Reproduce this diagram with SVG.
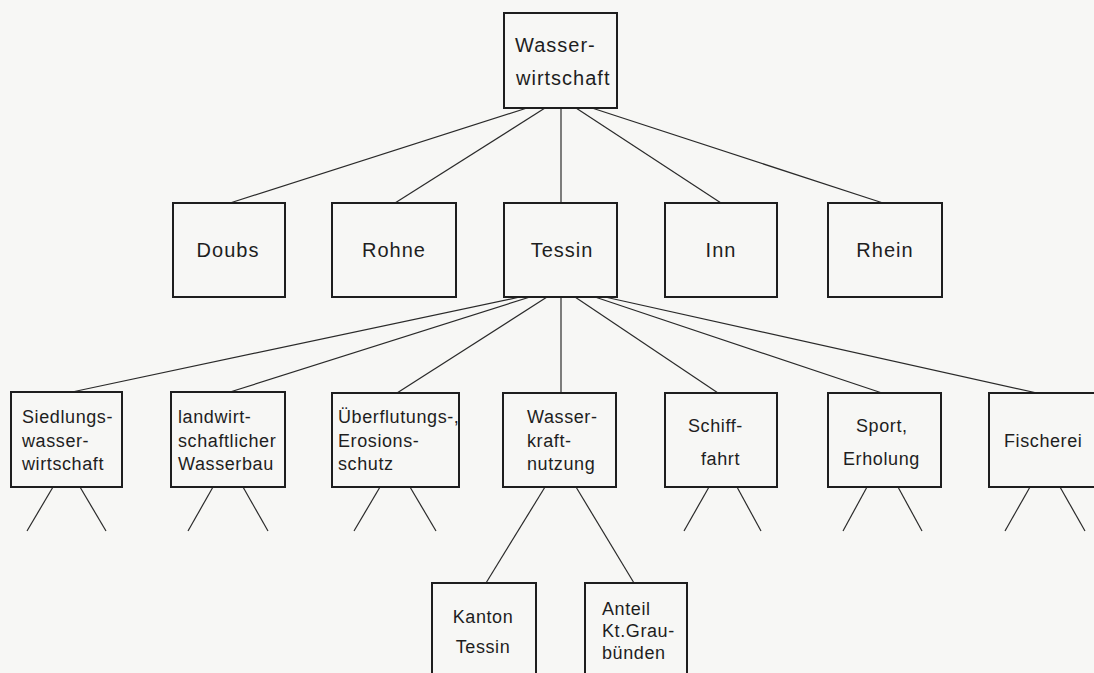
<svg xmlns="http://www.w3.org/2000/svg" width="1094" height="673" viewBox="0 0 1094 673">
<style>
.box{fill:none;stroke:#1e1e1e;stroke-width:2}
.ln{stroke:#2a2a2a;stroke-width:1.2;fill:none}
.t{font-family:"Liberation Sans","DejaVu Sans",sans-serif;fill:#1e1e1e;letter-spacing:0.6px}
.t20{font-size:20px;letter-spacing:1px}
.t18{font-size:18px}
.c{text-anchor:middle}
</style>
<rect x="0" y="0" width="1094" height="673" fill="#f7f7f5"/>
<g id="connectors" class="ln">
<line x1="527" y1="108" x2="230" y2="203"/>
<line x1="545" y1="108" x2="395" y2="203"/>
<line x1="561" y1="108" x2="561" y2="203"/>
<line x1="576" y1="108" x2="721" y2="203"/>
<line x1="592" y1="108" x2="883" y2="203"/>
<line x1="520" y1="297" x2="72" y2="392"/>
<line x1="530" y1="297" x2="230" y2="392"/>
<line x1="547" y1="297" x2="397" y2="393"/>
<line x1="561" y1="297" x2="561" y2="393"/>
<line x1="575" y1="297" x2="718" y2="393"/>
<line x1="595" y1="297" x2="882" y2="393"/>
<line x1="605" y1="297" x2="1037" y2="393"/>
<line x1="53" y1="487" x2="27" y2="531"/>
<line x1="80" y1="487" x2="106" y2="531"/>
<line x1="213" y1="487" x2="188" y2="531"/>
<line x1="243" y1="487" x2="268" y2="531"/>
<line x1="380" y1="487" x2="354" y2="531"/>
<line x1="410" y1="487" x2="436" y2="531"/>
<line x1="545" y1="487" x2="486" y2="583"/>
<line x1="576" y1="487" x2="634" y2="583"/>
<line x1="709" y1="487" x2="684" y2="531"/>
<line x1="737" y1="487" x2="761" y2="531"/>
<line x1="867" y1="487" x2="843" y2="531"/>
<line x1="898" y1="487" x2="922" y2="531"/>
<line x1="1030" y1="487" x2="1005" y2="531"/>
<line x1="1060" y1="487" x2="1085" y2="531"/>
</g>
<g id="wasserwirtschaft"><rect class="box" x="504" y="13" width="113" height="95"/>
<text class="t t20" x="515" y="52">Wasser-</text><text class="t t20" x="516" y="85">wirtschaft</text></g>
<g id="doubs"><rect class="box" x="173" y="203" width="112" height="94"/><text class="t t20 c" x="228" y="257">Doubs</text></g>
<g id="rohne"><rect class="box" x="332" y="203" width="124" height="94"/><text class="t t20 c" x="394" y="257">Rohne</text></g>
<g id="tessin"><rect class="box" x="504" y="203" width="113" height="94"/><text class="t t20 c" x="562" y="257">Tessin</text></g>
<g id="inn"><rect class="box" x="665" y="203" width="112" height="94"/><text class="t t20 c" x="721" y="257">Inn</text></g>
<g id="rhein"><rect class="box" x="828" y="203" width="114" height="94"/><text class="t t20 c" x="885" y="257">Rhein</text></g>
<g id="siedlung"><rect class="box" x="11" y="392" width="111" height="95"/>
<text class="t t18" x="22" y="423">Siedlungs-</text><text class="t t18" x="22" y="447">wasser-</text><text class="t t18" x="22" y="470">wirtschaft</text></g>
<g id="landwirt"><rect class="box" x="171" y="392" width="114" height="95"/>
<text class="t t18" x="178" y="423">landwirt-</text><text class="t t18" x="178" y="447">schaftlicher</text><text class="t t18" x="178" y="470">Wasserbau</text></g>
<g id="ueberflutung"><rect class="box" x="332" y="393" width="127" height="94"/>
<text class="t t18" x="338" y="423">Überflutungs-,</text><text class="t t18" x="338" y="447">Erosions-</text><text class="t t18" x="338" y="470">schutz</text></g>
<g id="wasserkraft"><rect class="box" x="503" y="393" width="113" height="94"/>
<text class="t t18" x="527" y="423">Wasser-</text><text class="t t18" x="527" y="447">kraft-</text><text class="t t18" x="527" y="470">nutzung</text></g>
<g id="schiff"><rect class="box" x="665" y="393" width="112" height="94"/>
<text class="t t18" x="688" y="432">Schiff-</text><text class="t t18" x="701" y="465">fahrt</text></g>
<g id="sport"><rect class="box" x="828" y="393" width="113" height="94"/>
<text class="t t18" x="856" y="432">Sport,</text><text class="t t18" x="843" y="465">Erholung</text></g>
<g id="fischerei"><rect class="box" x="989" y="393" width="113" height="94"/>
<text class="t t18" x="1004" y="447">Fischerei</text></g>
<g id="kanton"><rect class="box" x="432" y="583" width="104" height="100"/>
<text class="t t18 c" x="483" y="623">Kanton</text><text class="t t18 c" x="483" y="653">Tessin</text></g>
<g id="anteil"><rect class="box" x="585" y="583" width="102" height="100"/>
<text class="t t18" x="602" y="615">Anteil</text><text class="t t18" x="602" y="637">Kt.Grau-</text><text class="t t18" x="602" y="659">bünden</text></g>
</svg>
